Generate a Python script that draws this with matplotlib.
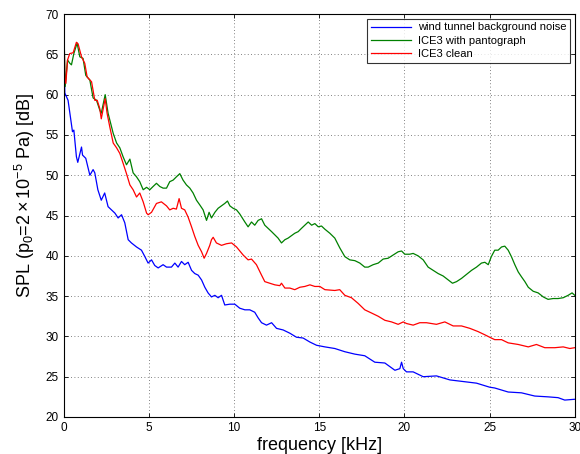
import numpy as np
import matplotlib
matplotlib.use('Agg')
import matplotlib.pyplot as plt

# Фон аэродинамической трубы (читано с графика)
f_noise = [0.0, 0.06, 0.25, 0.39, 0.51, 0.59, 0.74, 0.82, 1.04, 1.1, 1.29, 1.37, 1.53, 1.72,
           1.82, 2.0, 2.2, 2.4, 2.6, 2.8, 3.0, 3.19, 3.39, 3.58, 3.78, 3.97, 4.27, 4.56, 4.76,
           4.95, 5.15, 5.34, 5.54, 5.83, 6.03, 6.32, 6.52, 6.71, 6.91, 7.1, 7.3, 7.5, 7.69,
           7.89, 8.09, 8.28, 8.47, 8.67, 8.87, 9.06, 9.26, 9.45, 9.75, 10.04, 10.33, 10.63,
           10.92, 11.21, 11.41, 11.61, 11.9, 12.2, 12.49, 12.88, 13.27, 13.66, 14.05, 14.45,
           14.84, 15.33, 15.91, 16.5, 17.09, 17.67, 18.26, 18.85, 19.44, 19.73, 19.83, 19.93,
           20.12, 20.51, 21.1, 21.88, 22.67, 23.45, 24.23, 25.0, 25.3, 26.09, 26.87, 27.65,
           28.43, 29.02, 29.41, 30.0]
spl_noise = [67.4, 60.2, 59.3, 57.2, 55.4, 55.6, 52.3, 51.6, 53.5, 52.5, 52.1, 51.4, 50.0, 50.7,
             50.3, 48.2, 46.9, 47.8, 46.1, 45.7, 45.3, 44.7, 45.1, 44.1, 42.0, 41.6, 41.1, 40.7,
             39.9, 39.1, 39.5, 38.8, 38.5, 38.9, 38.6, 38.6, 39.1, 38.6, 39.3, 38.9, 39.2, 38.2,
             37.8, 37.6, 37.0, 36.1, 35.4, 34.9, 35.1, 34.8, 35.1, 33.9, 34.0, 34.0, 33.5, 33.3,
             33.3, 33.0, 32.3, 31.7, 31.4, 31.7, 31.0, 30.8, 30.4, 29.9, 29.8, 29.3, 28.9, 28.7,
             28.5, 28.1, 27.8, 27.6, 26.8, 26.7, 25.8, 26.0, 26.8, 26.0, 25.6, 25.6, 25.0, 25.1,
             24.6, 24.4, 24.2, 23.7, 23.6, 23.1, 23.0, 22.6, 22.5, 22.4, 22.1, 22.2]

# ICE3 с пантографом
f_panto = [0.0, 0.08, 0.22, 0.35, 0.45, 0.59, 0.78, 0.94, 1.13, 1.29, 1.53, 1.72, 1.92, 2.11,
           2.2, 2.43, 2.6, 2.9, 3.1, 3.29, 3.48, 3.68, 3.88, 4.07, 4.27, 4.46, 4.66, 4.86, 5.05,
           5.24, 5.44, 5.64, 5.83, 6.03, 6.22, 6.42, 6.61, 6.81, 7.0, 7.2, 7.4, 7.59, 7.79, 7.99,
           8.18, 8.38, 8.53, 8.67, 8.87, 9.06, 9.26, 9.45, 9.61, 9.75, 9.94, 10.14, 10.33, 10.63,
           10.82, 11.02, 11.21, 11.41, 11.61, 11.8, 12.0, 12.2, 12.39, 12.58, 12.78, 12.98, 13.17,
           13.37, 13.56, 13.76, 13.95, 14.15, 14.35, 14.55, 14.74, 14.94, 15.13, 15.33, 15.62,
           15.91, 16.2, 16.5, 16.79, 17.09, 17.38, 17.67, 17.87, 18.16, 18.46, 18.75, 19.04,
           19.34, 19.63, 19.83, 20.02, 20.31, 20.51, 20.8, 21.1, 21.39, 21.68, 21.98, 22.27,
           22.57, 22.82, 23.06, 23.35, 23.64, 23.94, 24.23, 24.52, 24.72, 24.92, 25.1, 25.3,
           25.5, 25.7, 25.89, 26.09, 26.28, 26.48, 26.68, 26.87, 27.07, 27.27, 27.56, 27.85,
           28.15, 28.43, 28.73, 29.02, 29.32, 29.61, 29.84, 30.0]
spl_panto = [69.0, 61.0, 64.3, 63.9, 63.7, 65.1, 66.4, 64.7, 64.5, 62.4, 61.8, 59.6, 59.3, 58.1,
             57.7, 60.0, 57.7, 55.2, 54.0, 53.4, 52.3, 51.3, 52.0, 50.3, 49.8, 49.2, 48.2, 48.5,
             48.2, 48.6, 49.0, 48.6, 48.4, 48.4, 49.2, 49.4, 49.8, 50.2, 49.4, 48.8, 48.4, 47.8,
             46.9, 46.3, 45.7, 44.4, 45.4, 44.7, 45.4, 45.9, 46.2, 46.5, 46.8, 46.2, 45.9, 45.7,
             45.2, 44.2, 43.6, 44.2, 43.8, 44.4, 44.6, 43.8, 43.4, 43.0, 42.6, 42.2, 41.6, 42.0,
             42.2, 42.5, 42.8, 43.0, 43.4, 43.8, 44.2, 43.8, 44.0, 43.6, 43.7, 43.3, 42.8, 42.2,
             41.0, 39.9, 39.5, 39.4, 39.1, 38.6, 38.6, 38.9, 39.1, 39.6, 39.7, 40.1, 40.5, 40.6,
             40.2, 40.2, 40.3, 40.0, 39.5, 38.6, 38.2, 37.8, 37.5, 37.0, 36.6, 36.8, 37.2, 37.7,
             38.2, 38.6, 39.1, 39.2, 38.9, 39.9, 40.7, 40.7, 41.1, 41.2, 40.7, 39.9, 38.9, 38.0,
             37.4, 36.8, 36.1, 35.6, 35.4, 34.9, 34.6, 34.7, 34.7, 34.8, 35.1, 35.4, 35.1]

# ICE3 без пантографа
f_clean = [0.0, 0.06, 0.12, 0.22, 0.35, 0.55, 0.74, 0.84, 1.04, 1.23, 1.37, 1.63, 1.82, 1.96,
           2.11, 2.2, 2.3, 2.43, 2.54, 2.7, 2.9, 3.1, 3.29, 3.48, 3.68, 3.88, 4.07, 4.27, 4.46,
           4.66, 4.86, 4.95, 5.15, 5.44, 5.73, 6.03, 6.22, 6.42, 6.61, 6.77, 6.91, 7.1, 7.3, 7.5,
           7.69, 7.89, 8.09, 8.24, 8.38, 8.57, 8.67, 8.77, 8.96, 9.26, 9.55, 9.85, 10.14, 10.53,
           10.82, 11.02, 11.31, 11.61, 11.8, 12.09, 12.39, 12.68, 12.78, 12.98, 13.27, 13.56,
           13.86, 14.15, 14.45, 14.74, 15.03, 15.33, 15.91, 16.2, 16.5, 16.89, 17.28, 17.67,
           18.07, 18.46, 18.85, 19.24, 19.63, 19.93, 20.12, 20.51, 20.9, 21.29, 21.88, 22.37,
           22.86, 23.35, 23.84, 24.32, 24.72, 25.1, 25.3, 25.7, 26.09, 26.68, 27.27, 27.75,
           28.24, 28.83, 29.32, 29.71, 30.0]
spl_clean = [70.0, 62.0, 61.4, 64.3, 65.1, 65.2, 66.5, 66.3, 64.7, 63.9, 62.2, 61.6, 59.3, 59.3,
             58.3, 57.0, 58.1, 59.5, 57.7, 56.0, 54.0, 53.4, 52.7, 51.5, 50.2, 48.8, 48.2, 47.3,
             47.8, 46.7, 45.3, 45.1, 45.4, 46.5, 46.7, 46.2, 45.7, 45.9, 45.8, 47.1, 45.9, 45.7,
             44.8, 43.6, 42.4, 41.3, 40.5, 39.7, 40.3, 41.3, 42.0, 42.3, 41.6, 41.3, 41.5, 41.6,
             41.1, 40.1, 39.5, 39.6, 38.9, 37.6, 36.8, 36.6, 36.4, 36.3, 36.6, 36.0, 36.0, 35.8,
             36.1, 36.2, 36.4, 36.2, 36.2, 35.8, 35.7, 35.8, 35.1, 34.8, 34.1, 33.3, 32.9, 32.5,
             32.0, 31.8, 31.5, 31.8, 31.6, 31.4, 31.7, 31.7, 31.5, 31.8, 31.3, 31.3, 31.0, 30.6,
             30.2, 29.8, 29.6, 29.6, 29.2, 29.0, 28.7, 29.0, 28.6, 28.6, 28.7, 28.5, 28.6]

labels = ['wind tunnel background noise', 'ICE3 with pantograph', 'ICE3 clean']
x_ticks = [0, 5, 10, 15, 20, 25, 30]
y_ticks = [20, 25, 30, 35, 40, 45, 50, 55, 60, 65, 70]

plt.rcParams['font.family'] = ['Liberation Sans', 'DejaVu Sans']
plt.rcParams['mathtext.fontset'] = 'custom'
plt.rcParams['mathtext.rm'] = 'Liberation Sans'
plt.rcParams['mathtext.it'] = 'Liberation Sans:italic'

fig = plt.figure(figsize=(5.8, 4.54), dpi=100)
ax = fig.add_axes([0.110, 0.0815, 0.881, 0.8875])

ax.plot(f_noise, spl_noise, color='#0000ff', lw=0.9, label=labels[0])
ax.plot(f_panto, spl_panto, color='#008000', lw=0.9, label=labels[1])
ax.plot(f_clean, spl_clean, color='#ff0000', lw=0.9, label=labels[2])

ax.set_xlim(0, 30)
ax.set_ylim(20, 70)
ax.set_xticks(x_ticks)
ax.set_yticks(y_ticks)
ax.tick_params(direction='in', labelsize=8.5, length=3, width=0.6, top=True, right=True)
ax.grid(True, color='0.35', linestyle=(0, (1, 3)), linewidth=0.6)
for s in ax.spines.values():
    s.set_linewidth(0.8)

ax.set_xlabel('frequency [kHz]', fontsize=13, labelpad=2)
ax.set_ylabel(r'SPL (p$_0$=$2\times10^{-5}$ Pa) [dB]', fontsize=13)
ax.yaxis.set_label_coords(-0.052, 0.55)

leg = ax.legend(loc='upper right', fontsize=8, frameon=True, fancybox=False,
                edgecolor='black', handlelength=3.6, borderaxespad=0.4,
                labelspacing=0.3, borderpad=0.35, handletextpad=0.6)
leg.get_frame().set_linewidth(0.8)

fig.savefig('out.png', dpi=100)
